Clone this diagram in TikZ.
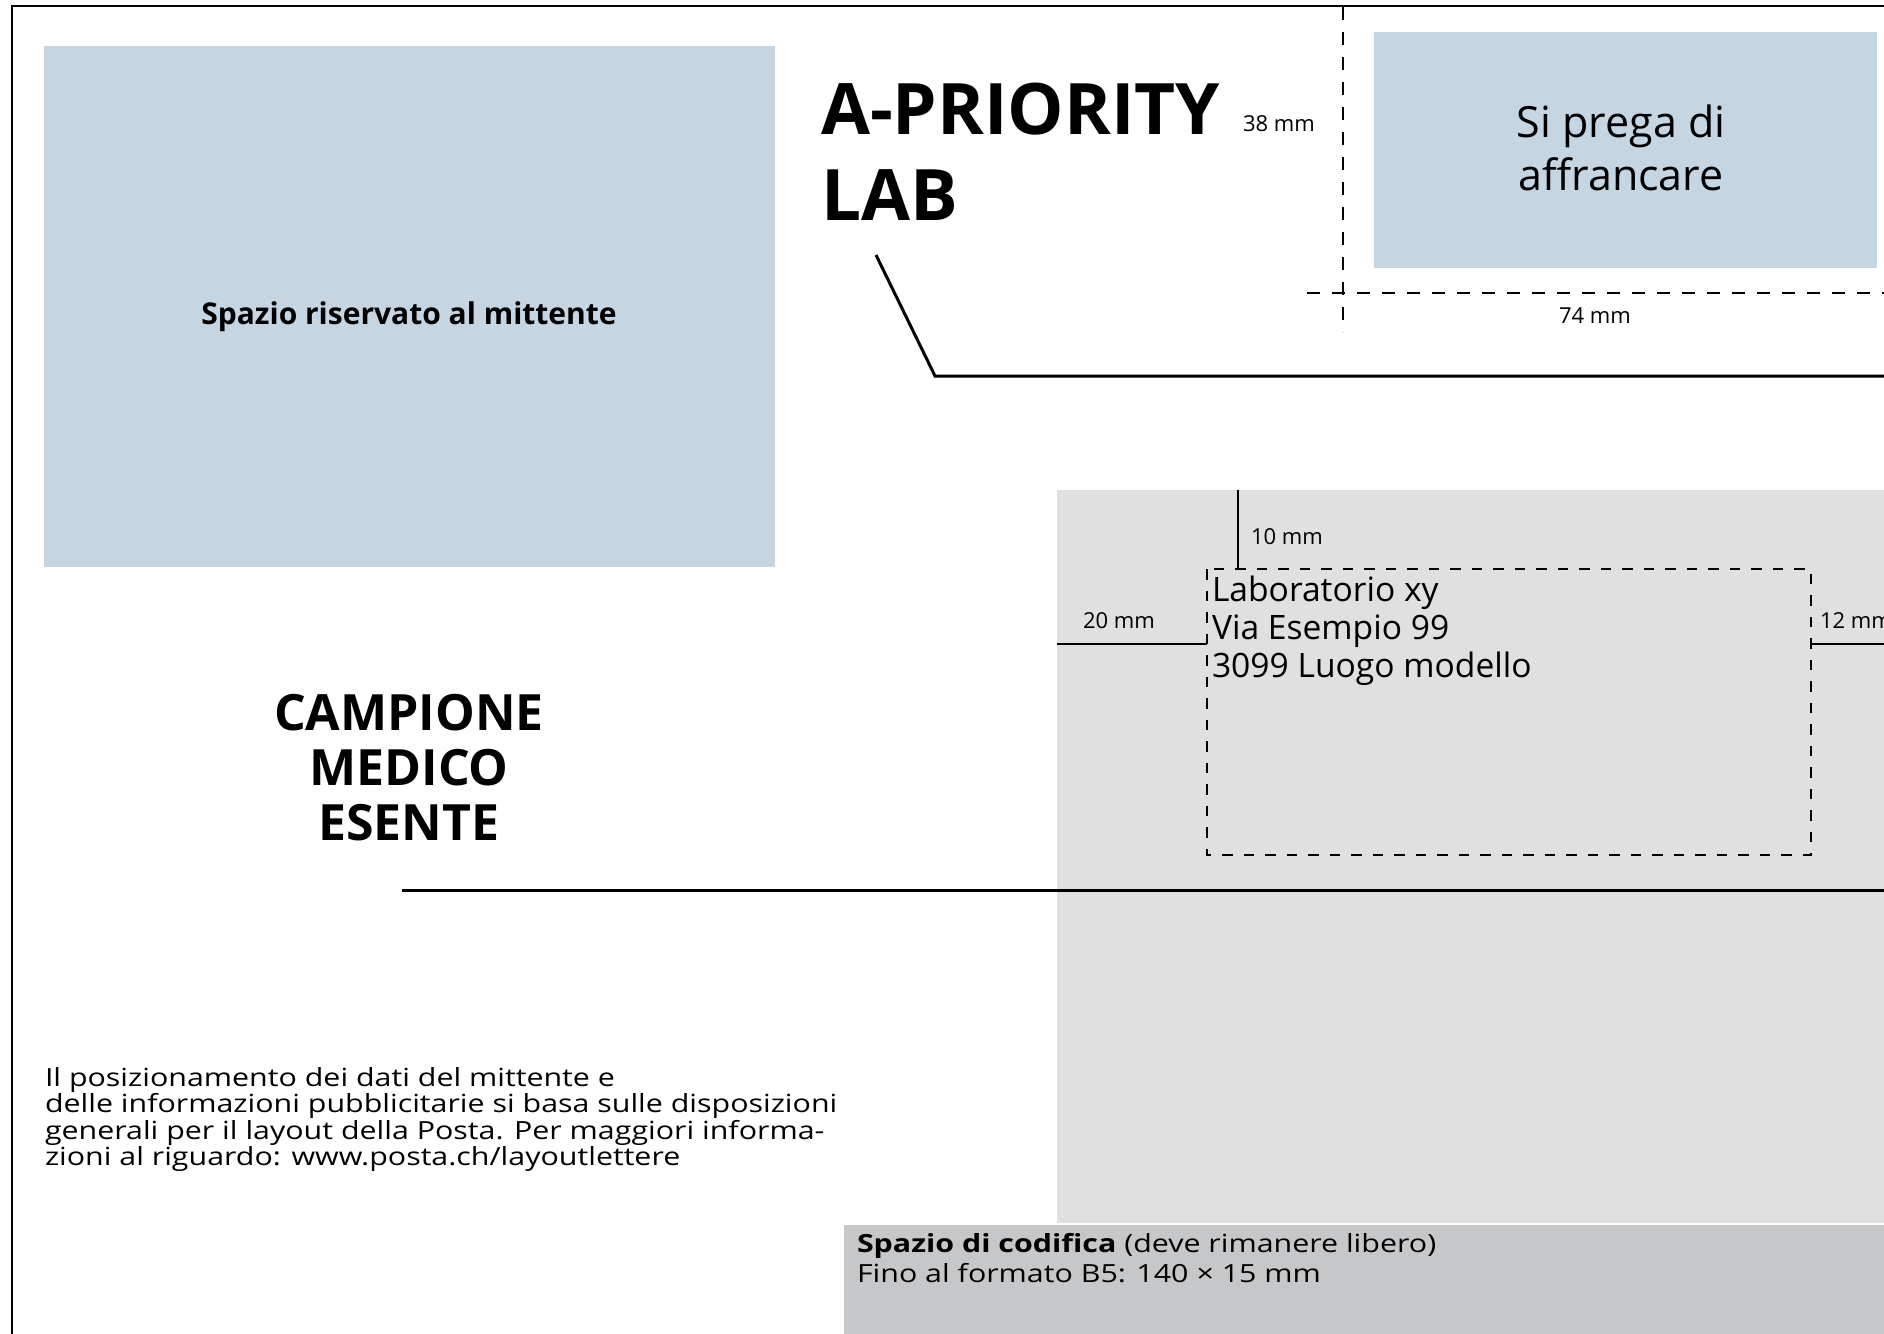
\documentclass[tikz,border=0pt]{standalone}
\usepackage{fontspec}
\setmainfont{Open Sans}
\definecolor{senderblue}{RGB}{197,214,226}
\definecolor{addrgrey}{RGB}{224,224,224}
\definecolor{codegrey}{RGB}{198,199,201}
\newcommand{\widetext}[1]{\scalebox{1.215}[1]{#1}}
\begin{document}
\begin{tikzpicture}[x=1pt,y=-1pt,
  txt/.style={inner sep=0pt, outer sep=0pt, anchor=base west, text=black},
  ctxt/.style={inner sep=0pt, outer sep=0pt, anchor=base, text=black},
  dimfont/.style={font=\fontsize{22}{26}\selectfont},
  bodyfont/.style={font=\fontsize{25}{27}\selectfont},
  addrfont/.style={font=\fontsize{33.6}{38}\selectfont},
  stampfont/.style={font=\fontsize{43}{53}\selectfont},
  bigbold/.style={font=\fontsize{71}{84}\selectfont\bfseries},
  medbold/.style={font=\fontsize{50}{55}\selectfont\bfseries},
  senderfont/.style={font=\fontsize{30}{34}\selectfont\bfseries},
  dimline/.style={line width=1.2pt},
  ruleline/.style={line width=3pt},
  frameline/.style={line width=2.5pt},
  topdash/.style={line width=2.2pt, dash pattern=on 13pt off 12pt},
  boxdash/.style={line width=2.2pt, dash pattern=on 10.5pt off 11pt}]
\useasboundingbox (0,0) rectangle (1884,1333);
\clip (0,0) rectangle (1884,1333);
\fill[white] (0,0) rectangle (1884,1333);

% areas
\fill[senderblue] (44,46) rectangle (775,567);
\fill[senderblue] (1374,32) rectangle (1877,268);
\fill[addrgrey] (1057,490) rectangle (1884,1223);
\fill[codegrey] (844,1224.5) rectangle (1884,1340);

% frame
\draw[frameline] (12,6) rectangle (1900,1350);

% stamp guides
\coordinate (vdTop) at (1343,7);
\coordinate (vdBot) at (1343,332);
\coordinate (hdL) at (1307,293);
\coordinate (hdR) at (1890,293);
\draw[topdash] (vdTop) -- (vdBot);
\draw[topdash] (hdL) -- (hdR);

% slanted rule
\coordinate (slA) at (876,255);
\coordinate (slB) at (935,376);
\coordinate (slC) at (1890,376);
\draw[ruleline, line join=miter] (slA) -- (slB) -- (slC);

% long rule
\coordinate (lrA) at (402,890);
\coordinate (lrB) at (1890,890);
\draw[ruleline] (lrA) -- (lrB);

% address box and dimension lines
\draw[boxdash] (1207,569) rectangle (1811,855);
\coordinate (tenTop) at (1238,490);
\coordinate (tenBot) at (1238,568);
\draw[dimline] (tenTop) -- (tenBot);
\coordinate (twL) at (1057,644);
\coordinate (twR) at (1207,644);
\draw[dimline] (twL) -- (twR);
\coordinate (twvL) at (1811,644);
\coordinate (twvR) at (1890,644);
\draw[dimline] (twvL) -- (twvR);

% texts
\node[ctxt, senderfont] (sender) at (409,324) {Spazio riservato al mittente};
\node[txt, bigbold] (apri) at (821,134) {A-PRIORITY};
\node[txt, bigbold] (lab) at (821,220) {LAB};
\node[txt, dimfont] (d38) at (1243,131) {38 mm};
\node[ctxt, stampfont] (st1) at (1621,137) {Si prega di};
\node[ctxt, stampfont] (st2) at (1621,190) {affrancare};
\node[ctxt, dimfont] (d74) at (1595,323) {74 mm};

\node[ctxt, medbold] (cm1) at (409,730) {CAMPIONE};
\node[ctxt, medbold] (cm2) at (409,785) {MEDICO};
\node[ctxt, medbold] (cm3) at (409,840) {ESENTE};

\node[txt, dimfont] (d10) at (1251,544) {10 mm};
\node[txt, dimfont] (d20) at (1083,628) {20 mm};
\node[txt, dimfont] (d12) at (1820,628) {12 mm};

\node[txt, addrfont] (ad1) at (1212,601) {Laboratorio xy};
\node[txt, addrfont] (ad2) at (1212,639) {Via Esempio 99};
\node[txt, addrfont] (ad3) at (1212,677) {3099 Luogo modello};

\node[txt, bodyfont] (in1) at (45,1086) {\widetext{Il posizionamento dei dati del mittente e}};
\node[txt, bodyfont] (in2) at (45,1112) {\widetext{delle informazioni pubblicitarie si basa sulle disposizioni}};
\node[txt, bodyfont] (in3) at (45,1139) {\widetext{generali per il layout della Posta. Per maggiori informa-}};
\node[txt, bodyfont] (in4) at (45,1165) {\widetext{zioni al riguardo: www.posta.ch/layoutlettere}};

\node[txt, bodyfont] (co1) at (857,1252) {\widetext{\textbf{Spazio di codifica} (deve rimanere libero)}};
\node[txt, bodyfont] (co2) at (857,1282) {\widetext{Fino al formato B5: 140 × 15 mm}};
\end{tikzpicture}
\end{document}
